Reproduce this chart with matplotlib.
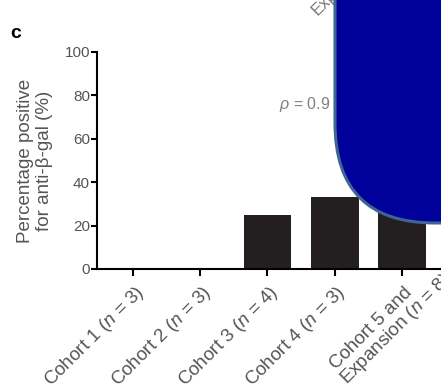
import numpy as np
import matplotlib
matplotlib.use('Agg')
import matplotlib.pyplot as plt
import matplotlib.transforms as mtransforms
from matplotlib.patches import FancyBboxPatch

plt.rcParams['font.family'] = ['Liberation Sans', 'DejaVu Sans']
plt.rcParams['mathtext.fontset'] = 'custom'
plt.rcParams['mathtext.it'] = 'Liberation Sans:italic'
plt.rcParams['mathtext.rm'] = 'Liberation Sans'

# data (last bar is mostly hidden behind the box)
cohorts = ['Cohort 1 ($n$ = 3)', 'Cohort 2 ($n$ = 3)', 'Cohort 3 ($n$ = 4)',
           'Cohort 4 ($n$ = 3)', 'Cohort 5 and']
pct_positive = [0, 0, 25, 33.3, 50]
yticks = [0, 20, 40, 60, 80, 100]

fig = plt.figure(figsize=(4.41, 3.90), dpi=100)
ax = fig.add_axes([0.22, 0.3103, 0.78, 0.5564])

x = np.arange(len(cohorts))
ax.bar(x, pct_positive, width=0.71, color='#231f20')

ax.set_xlim(-0.535, 4.58)
ax.set_ylim(0, 100)
ax.set_yticks(yticks)
ax.set_yticklabels([str(t) for t in yticks], fontsize=11, color='#555555')
ax.set_xticks(x)
ax.set_xticklabels(cohorts, rotation=45, ha='right', va='center',
                   rotation_mode='anchor', fontsize=13.5, color='#555555')
ax.tick_params(axis='y', length=4, width=1.5, pad=1)
ax.tick_params(axis='x', length=5, width=1.5, pad=0)
shift = mtransforms.ScaledTranslation(0.08, -0.14, fig.dpi_scale_trans)
for lab in ax.get_xticklabels():
    lab.set_transform(lab.get_transform() + shift)
for s in ['top', 'right']:
    ax.spines[s].set_visible(False)
for s in ['left', 'bottom']:
    ax.spines[s].set_linewidth(1.5)

ax.set_ylabel('Percentage positive\nfor anti-β-gal (%)', fontsize=13.5,
              color='#555555', labelpad=8)

# second line of the last tick label
ax.annotate('Expansion ($n$ = 8)', xy=(4, 0), xycoords='data',
            xytext=(-42, -81), textcoords='offset points',
            rotation=45, rotation_mode='anchor', ha='left', va='center',
            fontsize=13.5, color='#555555', annotation_clip=False)

ax.text(0.53, 0.76, r'$\rho$ = 0.9', transform=ax.transAxes, fontsize=11.5,
        color='#808080', va='center')

fig.text(0.036, 0.915, 'c', fontsize=14, fontweight='bold', va='center', ha='center')
fig.text(0.712, 0.968, 'Expansion', fontsize=12, color='#777777', rotation=45,
         rotation_mode='anchor', ha='left', va='center')

# overlay box covering the upper right corner
box = FancyBboxPatch((335, 167), 400, 400, boxstyle='round,pad=0,rounding_size=100',
                     facecolor='#00009a', edgecolor='#3d6595', linewidth=2.2,
                     transform=None, zorder=10)
fig.add_artist(box)

fig.savefig('out.png', dpi=100)
